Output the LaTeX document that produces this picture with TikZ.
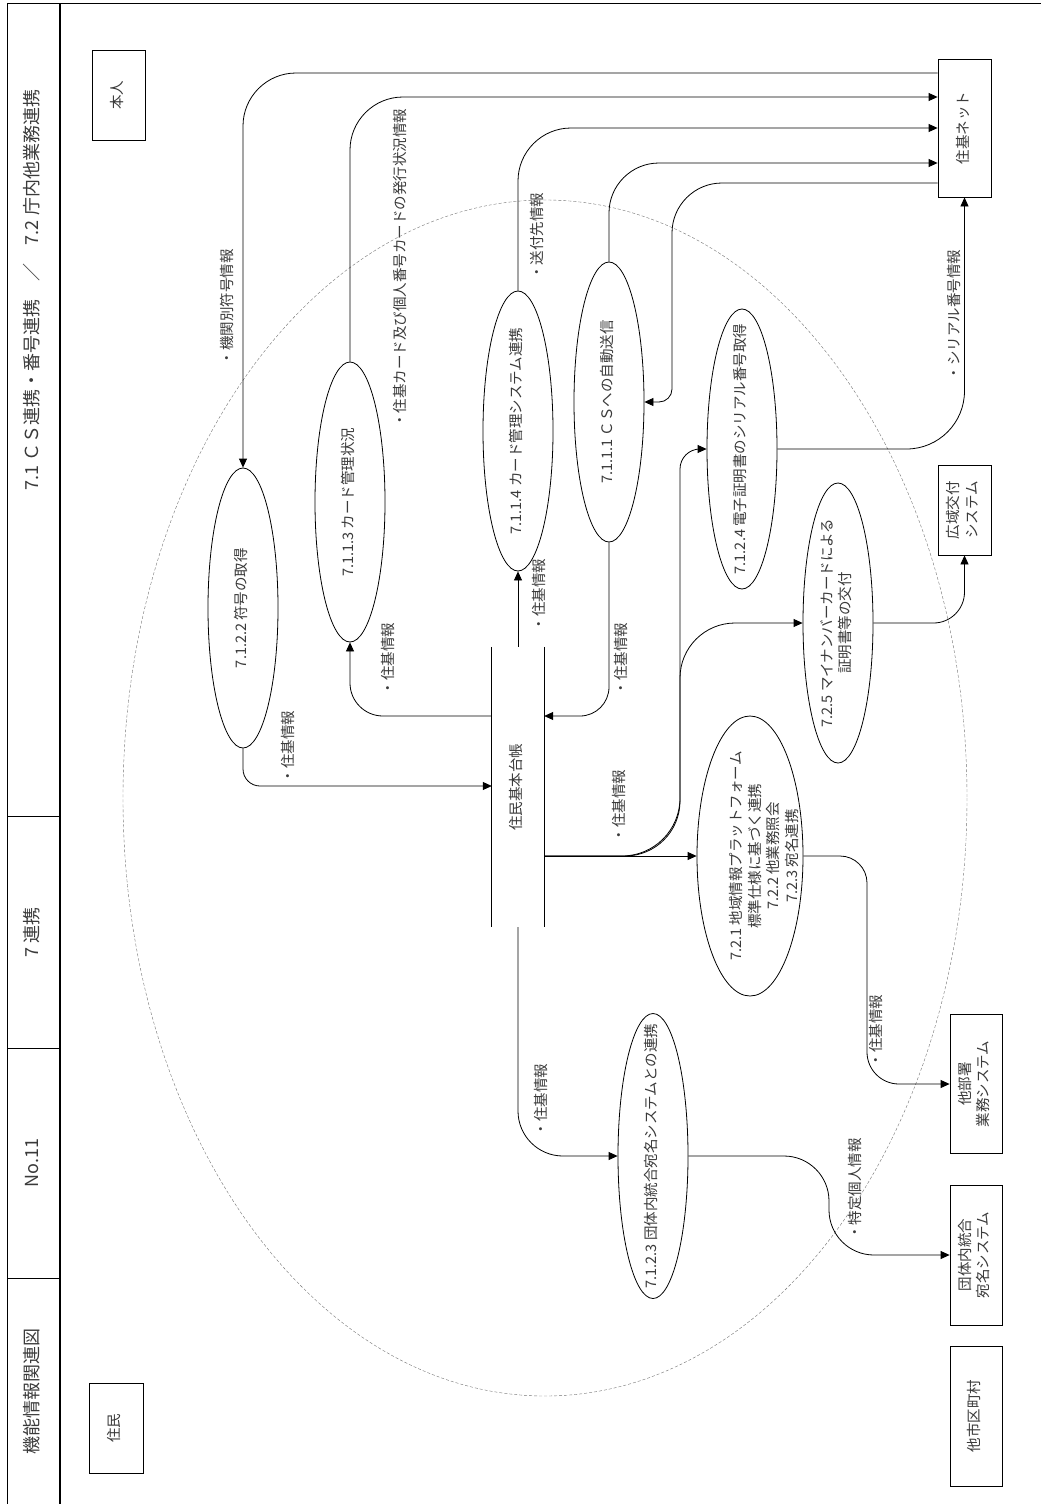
\documentclass[tikz,border=0pt]{standalone}
\usepackage{graphicx}
\usepackage{fontspec}
\setmainfont{Noto Sans CJK JP}
\usetikzlibrary{arrows.meta, positioning, shapes.geometric}
\definecolor{KIink}{HTML}{3A3A3A}
\newcommand{\kifont}{\fontsize{14.5}{18.5}\selectfont}
\newcommand{\kititle}{\fontsize{18}{22}\selectfont}
% rotated (bottom-to-top) text, centred on the node
\newcommand{\vtext}[1]{\rotatebox{90}{\makebox[0pt]{\begin{tabular}{@{}c@{}}#1\end{tabular}}}}
\tikzset{
  kiproc/.style={
    ellipse, draw, line width=0.8pt, fill=white, text=KIink,
    inner sep=0pt, minimum width=70pt, minimum height=280pt, font=\kifont},
  kibox/.style={
    rectangle, draw, line width=0.8pt, fill=white, text=KIink,
    inner sep=0pt, minimum width=53pt, minimum height=90pt, font=\kifont},
  kistore/.style={rectangle, inner sep=0pt, minimum width=52pt, minimum height=280pt,
    text=KIink, font=\kifont},
  kiarr/.style={-{Triangle[length=9pt,width=8pt]}, line width=0.8pt},
  kilbl/.style={inner sep=0pt, text=KIink, font=\kifont},
  kittl/.style={inner sep=0pt, text=KIink, font=\kititle},
  kibound/.style={draw=black!55, line width=0.4pt, dash pattern=on 3pt off 2pt},
}

\begin{document}
\begin{tikzpicture}[x=1pt, y=-1pt]
  \useasboundingbox (0,0) rectangle (1041,1504);
  %% Frame and title strip
  \draw[line width=1pt] (7,1510) -- (7,4) -- (1046,4);
  \draw[line width=1.2pt] (60,4) -- (60,1510);
  \draw[line width=0.8pt] (7,816) -- (60,816) (7,1048) -- (60,1048) (7,1278) -- (60,1278);
  \node[kittl] (t1) at (34,290) {\vtext{7.1 ＣＳ連携・番号連携　／　7.2 庁内他業務連携}};
  \node[kittl] (t2) at (34,932) {\vtext{7 連携}};
  \node[kittl] (t3) at (34,1163) {\vtext{No.11}};
  \node[kittl] (t4) at (34,1391) {\vtext{機能情報関連図}};
  %% System boundary
  \draw[kibound] (545,798) ellipse [x radius=422, y radius=598];
  %% Processes
  \node[kiproc] (fugo) at (243,608) {\vtext{7.1.2.2 符号の取得}};
  \node[kiproc] (kanri) at (350,502) {\vtext{7.1.1.3 カード管理状況}};
  \node[kiproc] (cardsys) at (518,431) {\vtext{7.1.1.4 カード管理システム連携}};
  \node[kiproc] (csauto) at (609,402) {\vtext{7.1.1.1 ＣＳへの自動送信}};
  \node[kiproc] (serial) at (742,449) {\vtext{7.1.2.4 電子証明書のシリアル番号取得}};
  \node[kiproc] (kofu) at (838,623) {\vtext{7.2.5 マイナンバーカードによる\\証明書等の交付}};
  \node[kiproc, minimum width=106pt,
        label={[kilbl, xshift=16pt]center:{\vtext{7.2.1 地域情報プラットフォーム\\標準仕様に基づく連携\\7.2.2 他業務照会\\7.2.3 宛名連携}}}]
        (chiiki) at (750,856) {};
  \node[kiproc, minimum height=285pt] (atena) at (653,1156) {\vtext{7.1.2.3 団体内統合宛名システムとの連携}};
  %% Data store
  \node[kistore] (daicho) at (518,787) {\vtext{住民基本台帳}};
  \draw[line width=0.8pt] (daicho.north west) -- (daicho.south west)
                          (daicho.north east) -- (daicho.south east);
  %% External entities
  \node[kibox] (honnin) at (118.5,95) {\vtext{本人}};
  \node[kibox, minimum width=54pt] (jumin) at (116,1428) {\vtext{住民}};
  \node[kibox, minimum height=138pt] (juki) at (964.5,128) {\vtext{住基ネット}};
  \node[kibox] (koiki) at (964.5,510) {\vtext{広域交付\\システム}};
  \node[kibox, minimum width=52pt, minimum height=139pt] (tabusho) at (976,1084) {\vtext{他部署\\業務システム}};
  \node[kibox, minimum width=52pt, minimum height=140pt] (togo) at (976,1255) {\vtext{団体内統合\\宛名システム}};
  \node[kibox, minimum width=52pt, minimum height=140pt] (tashi) at (976,1416) {\vtext{他市区町村}};
  %% Flows with juki net
  \draw[kiarr, rounded corners=53pt] (juki.west |- 0,73) -| (fugo.north);
  \draw[kiarr, rounded corners=53pt] (kanri.north) |- (juki.west |- 0,97);
  \draw[kiarr, rounded corners=53pt] (cardsys.north) |- (juki.west |- 0,128);
  \draw[kiarr, rounded corners=50pt] (csauto.north) |- (juki.west |- 0,163);
  \draw[kiarr] (juki.west |- 0,183) [rounded corners=50pt] -- (672,183)
        [rounded corners=13pt] -- (csauto.east -| 672,0) -- (csauto.east);
  \draw[kiarr, rounded corners=58pt] (serial.east) -| (juki.south);
  %% Flows with the register
  \draw[kiarr, rounded corners=17pt] (fugo.south) |- (daicho.west |- 0,786);
  \draw[kiarr, rounded corners=33pt] (daicho.west |- 0,716) -| (kanri.south);
  \draw[kiarr, rounded corners=29pt] (csauto.south) |- (daicho.east |- 0,716);
  \draw[kiarr] (daicho.north) -- (cardsys.south);
  \draw[kiarr] (daicho.east |- chiiki.west) -- (chiiki.west);
  \draw[kiarr, rounded corners=55pt] (daicho.east |- chiiki.west) -- (680,856)
        -- (kofu.west -| 680,0) -- (kofu.west);
  \draw[kiarr] (daicho.east |- chiiki.west) [rounded corners=58pt] -- (680,856)
        [rounded corners=20pt] -- (serial.west -| 680,0) -- (serial.west);
  \draw[kiarr, rounded corners=45pt] (daicho.south) |- (atena.west);
  %% Flows to other systems
  \draw[kiarr] (chiiki.east) [rounded corners=27pt] -- (chiiki.east -| 867,0)
        [rounded corners=32pt] -- (tabusho.west -| 867,0) -- (tabusho.west);
  \draw[kiarr, rounded corners=31pt] (kofu.east) -| (koiki.south);
  \draw[kiarr, rounded corners=45pt] (atena.east) -- (atena.east -| 829,0)
        -- (togo.west -| 829,0) -- (togo.west);
  %% Flow labels
  \node[kilbl] (l1) at (229,307) {\vtext{・機関別符号情報}};
  \node[kilbl] (l2) at (402,268) {\vtext{・住基カード及び個人番号カードの発行状況情報}};
  \node[kilbl] (l3) at (539,236) {\vtext{・送付先情報}};
  \node[kilbl] (l4) at (956,315) {\vtext{・シリアル番号情報}};
  \node[kilbl] (l5) at (290,747) {\vtext{・住基情報}};
  \node[kilbl] (l6) at (390,659) {\vtext{・住基情報}};
  \node[kilbl] (l7) at (541,595) {\vtext{・住基情報}};
  \node[kilbl] (l8) at (623,659) {\vtext{・住基情報}};
  \node[kilbl] (l9) at (621,806) {\vtext{・住基情報}};
  \node[kilbl] (l10) at (543,1100) {\vtext{・住基情報}};
  \node[kilbl] (l11) at (878,1031) {\vtext{・住基情報}};
  \node[kilbl] (l12) at (857,1189) {\vtext{・特定個人情報}};
\end{tikzpicture}
\end{document}
